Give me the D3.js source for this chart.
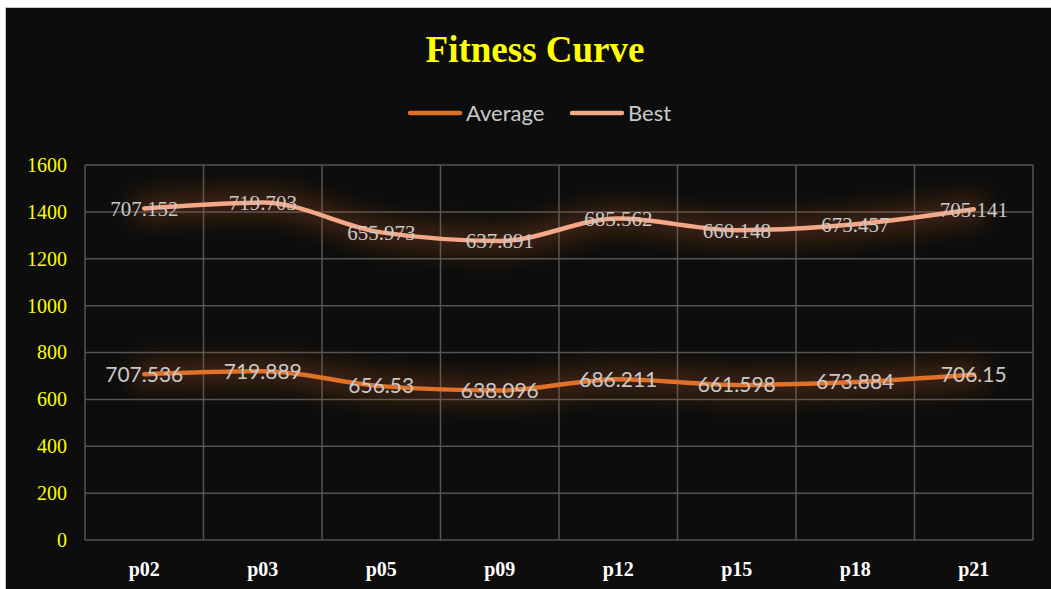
<!DOCTYPE html>
<html><head><meta charset="utf-8">
<script src="https://cdn.jsdelivr.net/npm/d3@7/dist/d3.min.js"></script>
<style>html,body{margin:0;padding:0;background:#fff;overflow:hidden}</style>
</head><body><svg id="c" width="1051" height="589"></svg>
<script>
const categories = ["p02","p03","p05","p09","p12","p15","p18","p21"];
const averageValues = [707.536,719.889,656.53,638.096,686.211,661.598,673.884,706.15];
const bestValues = [707.152,719.703,655.973,637.891,685.562,660.148,673.457,705.141];
const yTicks = [0,200,400,600,800,1000,1200,1400,1600];
const seriesNames = ["Average","Best"];
const seriesColors = ["#E07128","#F4A888"];

const svg = d3.select("#c");
const W=1051,H=589;
svg.append("rect").attr("x",5.5).attr("y",7.5).attr("width",W-5).attr("height",H-7).attr("fill","#0d0d0d").attr("stroke","#c8c8c8").attr("stroke-width",1);

const m={l:85,t:165,r:1033,b:540};
const x=d3.scaleBand().domain(categories).range([m.l,m.r]);
const y=d3.scaleLinear().domain([0,1600]).range([m.b,m.t]);

const defs=svg.append("defs");
const f=defs.append("filter").attr("id","glow").attr("x","-20%").attr("y","-300%").attr("width","140%").attr("height","700%");
f.append("feGaussianBlur").attr("in","SourceGraphic").attr("stdDeviation",11);

// grid
const g=svg.append("g");
g.selectAll("line.h").data(yTicks).join("line").attr("x1",m.l).attr("x2",m.r).attr("y1",d=>y(d)).attr("y2",d=>y(d)).attr("stroke","#555").attr("stroke-width",1.5);
const bounds=categories.map(c=>x(c)).concat([m.r]);
g.selectAll("line.v").data(bounds).join("line").attr("x1",d=>d).attr("x2",d=>d).attr("y1",m.t).attr("y2",m.b).attr("stroke","#555").attr("stroke-width",1.5);

// y axis labels
const ya=svg.append("g").attr("transform",`translate(${m.l-18},0)`).call(d3.axisLeft(y).tickValues(yTicks).tickSize(0).tickPadding(0).tickFormat(d3.format("d")));
ya.select(".domain").remove();
ya.selectAll("text").attr("fill","#FFFF00").style("font-family","'Liberation Serif','Times New Roman',serif").style("font-size","20px");

// x axis labels
const xa=svg.append("g").attr("transform",`translate(0,${m.b+18})`).call(d3.axisBottom(x).tickSize(0).tickPadding(0));
xa.select(".domain").remove();
xa.selectAll("text").attr("fill","#fff").attr("dy","0.9em").style("font-family","'Liberation Serif','Times New Roman',serif").style("font-size","20px").style("font-weight","bold");

// stacked
const stack0=averageValues.slice();
const stack1=averageValues.map((v,i)=>v+bestValues[i]);
const stacks=[stack0,stack1];
const raw=[averageValues,bestValues];
const line=d3.line().x((d,i)=>x(categories[i])+x.bandwidth()/2).y(d=>y(d)).curve(d3.curveMonotoneX);

stacks.forEach((s,i)=>{
  svg.append("path").attr("d",line(s)).attr("fill","none").attr("stroke","#B85A1E").attr("stroke-opacity",0.3).attr("stroke-width",26).attr("stroke-linecap","round").attr("filter","url(#glow)");
});
stacks.forEach((s,i)=>{
  svg.append("path").attr("d",line(s)).attr("fill","none").attr("stroke",seriesColors[i]).attr("stroke-width",4.5).attr("stroke-linecap","round");
});

// labels
const fonts=["Lato,'Open Sans',sans-serif","'Liberation Serif','Times New Roman',serif"];
const sizes=["21px","21px"];
stacks.forEach((s,i)=>{
  svg.append("g").selectAll("text").data(s).join("text")
    .attr("x",(d,j)=>x(categories[j])+x.bandwidth()/2)
    .attr("y",d=>y(d)).attr("dy","0.35em").attr("text-anchor","middle")
    .attr("fill","#c9c9c9").style("font-family",fonts[i]).style("font-size",sizes[i])
    .text((d,j)=>raw[i][j]);
});

// title
svg.append("text").attr("x",535).attr("y",62).attr("text-anchor","middle").attr("fill","#FFFF00")
  .style("font-family","'Liberation Serif','Times New Roman',serif").style("font-weight","bold").style("font-size","37px").text("Fitness Curve");

// legend
const leg=[{x:408,name:seriesNames[0],c:seriesColors[0]},{x:570,name:seriesNames[1],c:seriesColors[1]}];
leg.forEach(l=>{
  svg.append("line").attr("x1",l.x+2).attr("x2",l.x+52).attr("y1",113).attr("y2",113).attr("stroke",l.c).attr("stroke-width",4.5).attr("stroke-linecap","round");
  svg.append("text").attr("x",l.x+58).attr("y",113).attr("dy","0.35em").attr("fill","#c9c9c9").style("font-family","Lato,'Open Sans',sans-serif").style("font-size","22px").text(l.name);
});
</script></body></html>
